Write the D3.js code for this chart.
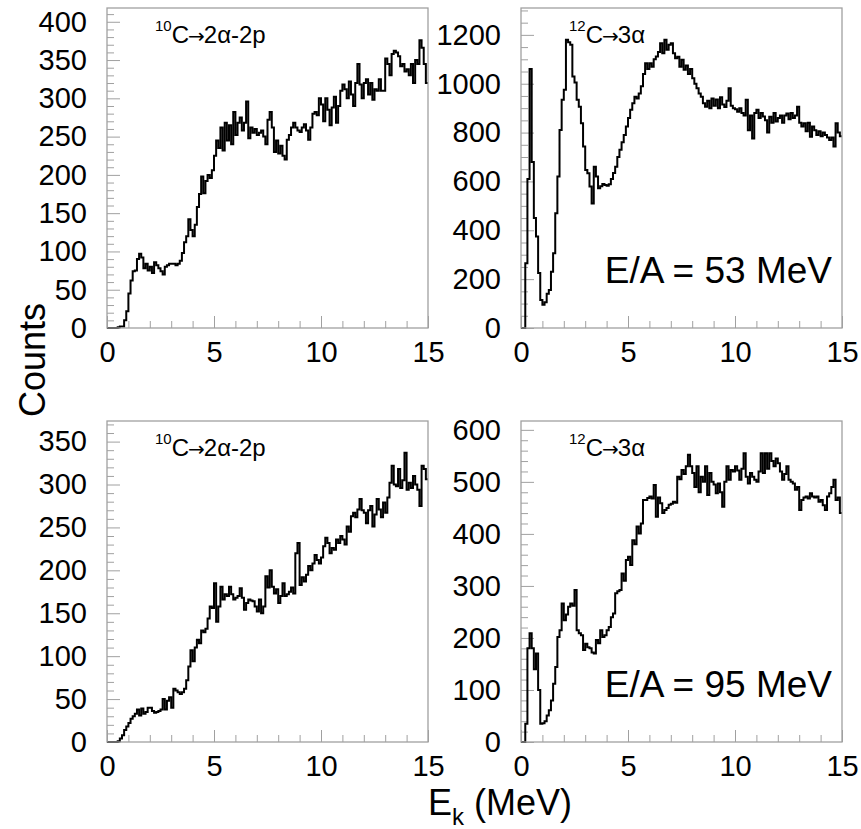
<!DOCTYPE html>
<html>
<head>
<meta charset="utf-8">
<script src="https://cdn.jsdelivr.net/npm/d3@7"></script>
<style>
  body { margin: 0; background: #fff; }
  svg { font-family: "Liberation Sans", Arial, Helvetica, sans-serif; }
</style>
</head>
<body>
<div id="chart"></div>
<script>
// bin width 0.1 MeV, 150 bins from 0 to 15
const binWidth = 0.1;

const c10Low = [
  0, 0, 0, 0, 0, 1, 2, 2, 10, 22,
  45, 62, 74, 75, 90, 97, 92, 78, 84, 75,
  80, 72, 86, 82, 78, 74, 70, 80, 82, 84,
  84, 84, 82, 84, 88, 98, 112, 120, 142, 128,
  120, 135, 158, 175, 198, 176, 192, 200, 196, 206,
  225, 245, 235, 262, 232, 268, 245, 265, 240, 282,
  252, 268, 275, 258, 268, 296, 248, 262, 255, 260,
  252, 255, 258, 250, 240, 272, 282, 262, 230, 245,
  228, 238, 225, 220, 246, 252, 262, 268, 262, 258,
  256, 262, 266, 258, 246, 262, 280, 282, 278, 300,
  292, 270, 300, 285, 265, 288, 302, 268, 290, 310,
  318, 312, 300, 322, 305, 290, 320, 345, 318, 300,
  320, 325, 305, 320, 298, 312, 310, 325, 310, 310,
  352, 345, 330, 358, 362, 360, 355, 342, 345, 335,
  338, 330, 345, 320, 350, 345, 376, 366, 345, 320
];

const c12Low = [
  0, 0, 265, 610, 1060, 680, 450, 375, 225, 115,
  95, 105, 140, 156, 230, 306, 470, 620, 811, 934,
  975, 1180, 1170, 1160, 1030, 1005, 934, 906, 838, 743,
  647, 633, 579, 510, 660, 620, 572, 580, 590, 585,
  582, 588, 610, 635, 660, 700, 730, 760, 790, 825,
  860, 893, 920, 947, 940, 960, 990, 1040, 1084, 1060,
  1084, 1070, 1100, 1111, 1130, 1166, 1125, 1180, 1139, 1160,
  1166, 1125, 1104, 1110, 1070, 1098, 1057, 1075, 1040, 1060,
  1022, 1000, 981, 960, 947, 920, 906, 930, 900, 940,
  910, 935, 900, 945, 915, 905, 930, 981, 910, 900,
  895, 885, 900, 880, 870, 934, 810, 870, 776, 880,
  893, 860, 880, 866, 850, 800, 865, 840, 880, 845,
  860, 870, 840, 870, 878, 855, 880, 860, 870, 906,
  840, 825, 838, 805, 840, 783, 825, 810, 790, 805,
  785, 800, 790, 780, 770, 780, 743, 838, 800, 785
];

const c10High = [
  0, 0, 0, 0, 0, 1, 4, 8, 14, 18,
  22, 27, 30, 33, 38, 31, 39, 33, 35, 40,
  40, 36, 34, 35, 36, 38, 50, 38, 48, 52,
  40, 62, 60, 58, 56, 58, 62, 72, 88, 107,
  94, 110, 119, 115, 130, 128, 132, 144, 158, 156,
  185, 140, 158, 181, 166, 172, 170, 181, 172, 166,
  168, 170, 179, 168, 154, 162, 166, 165, 164, 158,
  152, 166, 150, 158, 193, 180, 200, 181, 173, 178,
  162, 170, 185, 170, 172, 175, 180, 173, 220, 232,
  183, 192, 187, 195, 205, 200, 208, 218, 212, 208,
  215, 228, 238, 232, 220, 226, 224, 236, 232, 240,
  236, 230, 251, 245, 263, 267, 262, 271, 283, 270,
  267, 255, 270, 275, 251, 265, 283, 271, 262, 279,
  267, 285, 302, 322, 300, 298, 318, 296, 305, 337,
  294, 302, 296, 310, 300, 294, 275, 322, 318, 306
];

const c12High = [
  0, 0, 35, 180, 209, 180, 140, 170, 100, 35,
  36, 40, 51, 61, 80, 112, 144, 202, 215, 266,
  234, 245, 260, 266, 262, 292, 215, 209, 205, 177,
  189, 182, 180, 172, 170, 196, 190, 215, 202, 205,
  215, 221, 240, 247, 286, 290, 292, 324, 310, 350,
  356, 340, 388, 380, 414, 401, 420, 465, 465, 469,
  472, 468, 494, 433, 470, 459, 440, 446, 450, 456,
  458, 462, 460, 510, 505, 523, 515, 530, 552, 530,
  517, 490, 530, 480, 510, 500, 530, 475, 517, 500,
  495, 478, 497, 480, 452, 500, 530, 504, 523, 520,
  530, 522, 504, 525, 555, 510, 497, 517, 510, 504,
  500, 520, 555, 517, 555, 525, 555, 540, 530, 545,
  536, 520, 504, 515, 530, 504, 500, 497, 485, 490,
  446, 465, 470, 472, 468, 478, 472, 470, 472, 462,
  465, 455, 446, 472, 478, 490, 504, 465, 470, 440
];

const xTicks = [0, 5, 10, 15];
const yTicksC10Low = [0, 50, 100, 150, 200, 250, 300, 350, 400];
const yTicksC12Low = [0, 200, 400, 600, 800, 1000, 1200];
const yTicksC10High = [0, 50, 100, 150, 200, 250, 300, 350];
const yTicksC12High = [0, 100, 200, 300, 400, 500, 600];

const panels = [
  { data: c10Low, yMax: 418, ticks: yTicksC10Low, minor: 10, left: 107, top: 8, bottom: 328,
    sup: "10", parts: ["C", "\u2192", "2\u03b1-2p"] },
  { data: c12Low, yMax: 1310, ticks: yTicksC12Low, minor: 50, left: 521, top: 8, bottom: 328,
    sup: "12", parts: ["C", "\u2192", "3\u03b1"], energy: "E/A = 53 MeV" },
  { data: c10High, yMax: 374, ticks: yTicksC10High, minor: 10, left: 107, top: 421, bottom: 742,
    sup: "10", parts: ["C", "\u2192", "2\u03b1-2p"] },
  { data: c12High, yMax: 617, ticks: yTicksC12High, minor: 20, left: 521, top: 421, bottom: 742,
    sup: "12", parts: ["C", "\u2192", "3\u03b1"], energy: "E/A = 95 MeV" }
];

const panelWidth = 321;
const frameColor = "#a0a0a0";
const tickFont = "29px";

const svg = d3.select("#chart")
    .append("svg")
    .attr("width", 861)
    .attr("height", 829);

svg.append("rect")
    .attr("width", 861)
    .attr("height", 829)
    .attr("fill", "#fff");

panels.forEach(p => {
    const height = p.bottom - p.top;
    const g = svg.append("g")
        .attr("transform", "translate(" + p.left + "," + p.top + ")");

    const x = d3.scaleLinear().domain([0, 15]).range([0, panelWidth]);
    const y = d3.scaleLinear().domain([0, p.yMax]).range([height, 0]);

    // minor ticks
    const minorY = d3.range(0, p.yMax, p.minor).filter(v => !p.ticks.includes(v));
    g.append("g")
        .call(d3.axisLeft(y).tickValues(minorY).tickSize(-7).tickFormat(""))
        .call(a => a.select(".domain").remove())
        .call(a => a.selectAll("line").attr("stroke", frameColor));

    const minorX = d3.range(1, 15, 1).filter(v => !xTicks.includes(v));
    g.append("g")
        .attr("transform", "translate(0," + height + ")")
        .call(d3.axisBottom(x).tickValues(minorX).tickSize(-7).tickFormat(""))
        .call(a => a.select(".domain").remove())
        .call(a => a.selectAll("line").attr("stroke", frameColor));

    // major ticks + labels
    g.append("g")
        .call(d3.axisLeft(y).tickValues(p.ticks).tickSize(-13).tickPadding(20).tickFormat(d3.format("d")))
        .call(a => a.select(".domain").remove())
        .call(a => a.selectAll("line").attr("stroke", frameColor))
        .call(a => a.selectAll("text")
            .attr("fill", "#000")
            .style("font-size", tickFont)
            .style("font-family", "'Liberation Sans', Arial, sans-serif"));

    g.append("g")
        .attr("transform", "translate(0," + height + ")")
        .call(d3.axisBottom(x).tickValues(xTicks).tickSize(-12).tickPadding(13))
        .call(a => a.select(".domain").remove())
        .call(a => a.selectAll("line").attr("stroke", frameColor))
        .call(a => a.selectAll("text")
            .attr("fill", "#000")
            .style("font-size", tickFont)
            .style("font-family", "'Liberation Sans', Arial, sans-serif"));

    // histogram as a step line
    const points = p.data.map((v, i) => [i * binWidth, v]);
    points.push([15, p.data[p.data.length - 1]]);
    const line = d3.line()
        .x(d => x(d[0]))
        .y(d => y(d[1]))
        .curve(d3.curveStepAfter);

    g.append("path")
        .datum(points)
        .attr("d", line)
        .attr("fill", "none")
        .attr("stroke", "#000")
        .attr("stroke-width", 2);

    // frame
    g.append("rect")
        .attr("width", panelWidth)
        .attr("height", height)
        .attr("fill", "none")
        .attr("stroke", frameColor)
        .attr("stroke-width", 1.3);

    // reaction label
    const label = g.append("text")
        .attr("x", 48)
        .attr("y", 35)
        .style("font-size", "24px")
        .attr("fill", "#000");
    label.append("tspan")
        .attr("dy", "-12")
        .style("font-size", "15px")
        .text(p.sup);
    label.append("tspan")
        .attr("dy", "12")
        .text(p.parts[0]);
    label.append("tspan")
        .attr("dx", "-1")
        .style("font-family", "'DejaVu Sans', sans-serif")
        .style("font-size", "20px")
        .text(p.parts[1]);
    label.append("tspan")
        .attr("dx", "-1")
        .text(p.parts[2]);

    if (p.energy) {
        g.append("text")
            .attr("x", panelWidth - 10)
            .attr("y", height - 45)
            .attr("text-anchor", "end")
            .style("font-size", "37px")
            .attr("fill", "#000")
            .text(p.energy);
    }
});

// axis titles
svg.append("text")
    .attr("transform", "translate(45,360) rotate(-90)")
    .attr("text-anchor", "middle")
    .style("font-size", "36px")
    .text("Counts");

const xTitle = svg.append("text")
    .attr("x", 428)
    .attr("y", 815)
    .style("font-size", "36px");
xTitle.append("tspan").text("E");
xTitle.append("tspan")
    .attr("dy", "10")
    .style("font-size", "24px")
    .text("k");
xTitle.append("tspan")
    .attr("dy", "-10")
    .text(" (MeV)");
</script>
</body>
</html>
